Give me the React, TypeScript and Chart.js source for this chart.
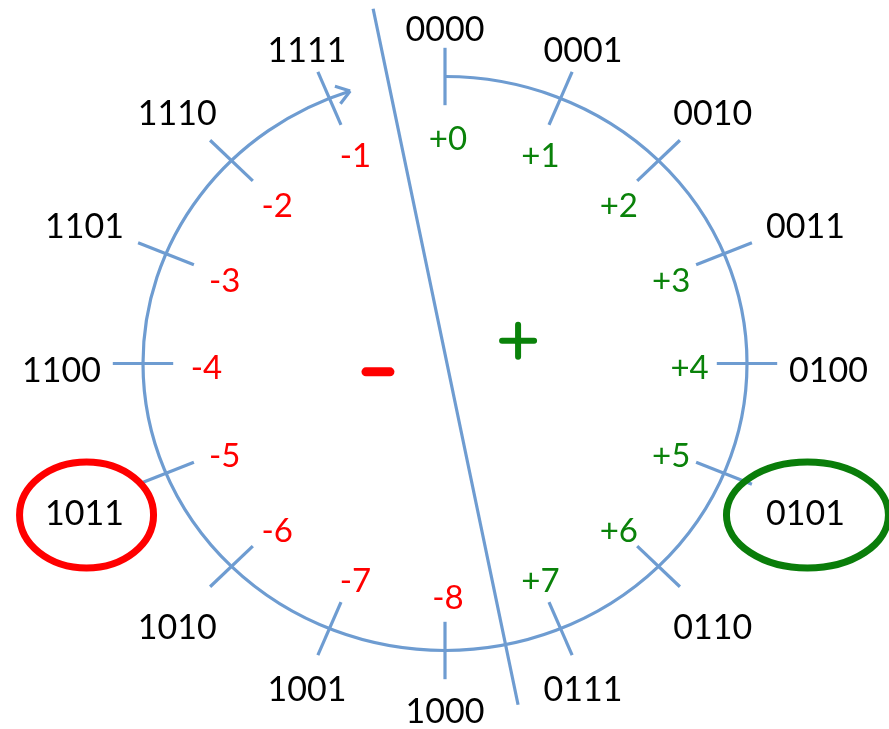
import { useEffect, useRef } from 'react';
import { Chart, registerables } from 'chart.js';

Chart.register(...registerables);

// ---- data ----
const codes = ['0000', '0001', '0010', '0011', '0100', '0101', '0110', '0111',
  '1000', '1001', '1010', '1011', '1100', '1101', '1110', '1111'];
const signedValues = ['+0', '+1', '+2', '+3', '+4', '+5', '+6', '+7',
  '-8', '-7', '-6', '-5', '-4', '-3', '-2', '-1'];
// clockwise angle of each position, degrees from the top
const positionAngles = [0, 22.5, 45, 67.5, 90, 112.5, 135, 157.5,
  180, 202.5, 225, 247.5, 270, 292.5, 315, 337.5];
const arrowEndAngle = 341.7;
const highlighted = ['1011', '0101'];
// divider line between negative and positive halves (data units)
const dividerX = [-0.238, 0.242];
const dividerY = [1.236, -1.189];
// side signs
const sideSigns = ['+', '-'];
const sideX = [0.242, -0.222];
const sideY = [0.079, -0.029];

// ---- styles ----
const BLUE = '#6e9cd1';
const RED = '#ff0000';
const GREEN = '#0a820a';
const FONT = 'Lato, "Open Sans", sans-serif';
const ovalStyle: Record<string, { color: string; rx: number; ry: number }> = {
  '1011': { color: RED, rx: 67, ry: 53 },
  '0101': { color: '#0a7d0a', rx: 81, ry: 53 },
};

const diagramPlugin = {
  id: 'diagram',
  afterDraw(chart: any) {
    const ctx: CanvasRenderingContext2D = chart.ctx;
    const xs = chart.scales.x;
    const ys = chart.scales.y;
    const cx = xs.getPixelForValue(0);
    const cy = ys.getPixelForValue(0);
    const rx = xs.getPixelForValue(1) - cx;
    const ry = cy - ys.getPixelForValue(1);
    const rad = (d: number) => (d * Math.PI) / 180;
    const pt = (deg: number, r: number): [number, number] => {
      const t = rad(deg);
      return [cx + r * rx * Math.sin(t), cy - r * ry * Math.cos(t)];
    };

    ctx.save();
    ctx.lineCap = 'butt';
    ctx.strokeStyle = BLUE;
    ctx.lineWidth = 3.2;

    // circle arc with arrow
    ctx.beginPath();
    ctx.ellipse(cx, cy, rx, ry, 0, rad(-90), rad(arrowEndAngle - 90), false);
    ctx.stroke();
    const [ex, ey] = pt(arrowEndAngle, 1);
    const te = rad(arrowEndAngle);
    let tx = rx * Math.cos(te);
    let ty = ry * Math.sin(te);
    const tl = Math.hypot(tx, ty);
    tx /= tl; ty /= tl;
    const armLen = 16;
    const armAng = rad(35);
    ctx.beginPath();
    for (const sgn of [1, -1]) {
      const a = Math.atan2(ty, tx) + Math.PI + sgn * armAng;
      ctx.moveTo(ex, ey);
      ctx.lineTo(ex + armLen * Math.cos(a), ey + armLen * Math.sin(a));
    }
    ctx.stroke();

    // tick marks
    positionAngles.forEach((a) => {
      const [x1, y1] = pt(a, 0.9);
      const [x2, y2] = pt(a, 1.1);
      ctx.beginPath();
      ctx.moveTo(x1, y1);
      ctx.lineTo(x2, y2);
      ctx.stroke();
    });

    // binary labels outside
    const fs = 34;
    const capH = fs * 0.72;
    ctx.font = `${fs}px ${FONT}`;
    ctx.textAlign = 'center';
    ctx.textBaseline = 'alphabetic';
    const gap = 42;
    codes.forEach((code, i) => {
      const a = positionAngles[i];
      const s = Math.sin(rad(a));
      const c = Math.cos(rad(a));
      const [px, py] = pt(a, 1);
      const w = ctx.measureText(code).width;
      const hx = w / 2 + gap;
      const hy = capH / 2 + gap;
      const t = Math.min(
        Math.abs(s) > 1e-6 ? hx / Math.abs(s) : Infinity,
        Math.abs(c) > 1e-6 ? hy / Math.abs(c) : Infinity,
      );
      const lx = px + s * t;
      const ly = py - c * t + 6;
      ctx.fillStyle = '#000000';
      ctx.fillText(code, lx, ly + capH / 2);
      const ov = ovalStyle[code];
      if (ov && highlighted.includes(code)) {
        ctx.save();
        ctx.strokeStyle = ov.color;
        ctx.lineWidth = 7;
        ctx.beginPath();
        ctx.ellipse(lx + 2, ly + 2, ov.rx, ov.ry, 0, 0, Math.PI * 2);
        ctx.stroke();
        ctx.restore();
      }
    });

    // signed values inside
    const fs2 = 33;
    const capH2 = fs2 * 0.72;
    ctx.font = `${fs2}px ${FONT}`;
    signedValues.forEach((v, i) => {
      const [lx, ly] = pt(positionAngles[i], 0.8);
      ctx.fillStyle = v.startsWith('-') ? RED : GREEN;
      ctx.fillText(v, lx + 3, ly + 4 + capH2 / 2);
    });

    // big + and - signs
    sideSigns.forEach((sign, i) => {
      const px = xs.getPixelForValue(sideX[i]);
      const py = ys.getPixelForValue(sideY[i]);
      ctx.save();
      ctx.lineCap = 'round';
      if (sign === '+') {
        ctx.strokeStyle = GREEN;
        ctx.lineWidth = 6;
        ctx.beginPath();
        ctx.moveTo(px - 16, py);
        ctx.lineTo(px + 16, py);
        ctx.moveTo(px, py - 16);
        ctx.lineTo(px, py + 16);
        ctx.stroke();
      } else {
        ctx.strokeStyle = RED;
        ctx.lineWidth = 9;
        ctx.beginPath();
        ctx.moveTo(px - 12, py);
        ctx.lineTo(px + 12, py);
        ctx.stroke();
      }
      ctx.restore();
    });

    ctx.restore();
  },
};

export default function App() {
  const canvasRef = useRef<HTMLCanvasElement | null>(null);

  useEffect(() => {
    if (!canvasRef.current) return;
    const chart = new Chart(canvasRef.current, {
      type: 'scatter',
      data: {
        datasets: [
          {
            data: dividerX.map((x, i) => ({ x, y: dividerY[i] })),
            showLine: true,
            borderColor: BLUE,
            borderWidth: 3.2,
            pointRadius: 0,
            pointHoverRadius: 0,
          },
        ],
      },
      options: {
        animation: false,
        responsive: true,
        maintainAspectRatio: false,
        events: [],
        layout: { padding: 0 },
        plugins: {
          legend: { display: false },
          tooltip: { enabled: false },
        },
        scales: {
          x: { type: 'linear', display: false, min: -445 / 302, max: 444 / 302 },
          y: { type: 'linear', display: false, min: -365.5 / 287, max: 363.5 / 287 },
        },
      },
      plugins: [diagramPlugin],
    });
    return () => chart.destroy();
  }, []);

  return (
    <div style={{ position: 'fixed', left: 0, top: 0, width: 889, height: 729, background: '#ffffff' }}>
      <canvas ref={canvasRef} />
    </div>
  );
}
